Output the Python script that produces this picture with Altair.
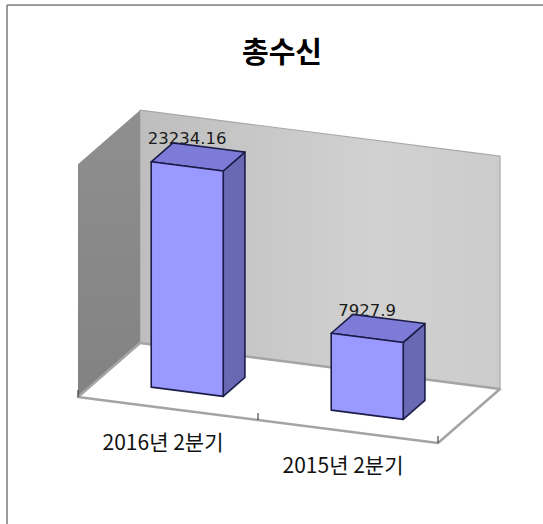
import altair as alt
import pandas as pd

# ---------------- data ----------------
categories = ["2016년 2분기", "2015년 2분기"]
values = [23234.16, 7927.9]
value_labels = ["23234.16", "7927.9"]
title_text = "총수신"
axis_max = 24000          # height of the chart walls (value units)

# ---------------- layout / 3-D geometry ----------------
CANVAS_W, CANVAS_H = 543, 524
PAD_L, PAD_T = 7, 5
VIEW_W, VIEW_H = CANVAS_W - PAD_L, CANVAS_H - PAD_T
ORIGIN_PX = (78, 397)     # floor front-left corner (canvas px)
SLOT_PX = 180             # horizontal px per category slot
SLOT_TILT_PX = 23         # vertical drop per slot (floor tilt)
DEPTH_PX = (62, -54)      # shift for full depth (front -> back wall)
PX_PER_UNIT = 0.0097      # vertical px per value unit
BAR_W = 0.4               # bar width (slots)
BAR_Z0 = 0.31             # bar front position (depth fraction)
BAR_D = 0.35              # bar depth (depth fraction)
TICK_PX = 7

N = len(categories)


def proj(X, Y, Z):
    u = X + Z * DEPTH_PX[0] / SLOT_PX
    v = Y - (X * SLOT_TILT_PX + Z * DEPTH_PX[1]) / PX_PER_UNIT
    return u, v


def face_rows(face, pts3d):
    pts = [proj(*p) for p in pts3d]
    us = sorted(set(round(p[0], 9) for p in pts))
    rows = []
    n = len(pts)
    for u in us:
        vs = []
        for i in range(n):
            (u1, v1), (u2, v2) = pts[i], pts[(i + 1) % n]
            if min(u1, u2) - 1e-9 <= u <= max(u1, u2) + 1e-9:
                if abs(u2 - u1) < 1e-12:
                    vs += [v1, v2]
                else:
                    t = (u - u1) / (u2 - u1)
                    vs.append(v1 + t * (v2 - v1))
        rows.append({"face": face, "u": u, "lo": min(vs), "hi": max(vs)})
    return rows


T = axis_max
back_df = pd.DataFrame(face_rows("back", [(0, 0, 1), (N, 0, 1), (N, T, 1), (0, T, 1)]))
left_df = pd.DataFrame(face_rows("left", [(0, 0, 0), (0, 0, 1), (0, T, 1), (0, T, 0)]))
floor_df = pd.DataFrame(face_rows("floor", [(0, 0, 0), (N, 0, 0), (N, 0, 1), (0, 0, 1)]))

front_rows, side_rows, top_rows = [], [], []
label_rows, cat_rows = [], []
for i, (cat, val, lab) in enumerate(zip(categories, values, value_labels)):
    c = i + 0.5
    x0, x1 = c - BAR_W / 2, c + BAR_W / 2
    z0, z1 = BAR_Z0, BAR_Z0 + BAR_D
    front_rows += face_rows(cat, [(x0, 0, z0), (x1, 0, z0), (x1, val, z0), (x0, val, z0)])
    side_rows += face_rows(cat, [(x1, 0, z0), (x1, 0, z1), (x1, val, z1), (x1, val, z0)])
    top_rows += face_rows(cat, [(x0, val, z0), (x1, val, z0), (x1, val, z1), (x0, val, z1)])
    lu, lv = proj(c, val, z0)
    label_rows.append({"u": lu, "v": lv, "label": lab})
    cu, cv = proj(c, 0, 0)
    cat_rows.append({"u": cu, "v": cv, "label": cat})

front_df = pd.DataFrame(front_rows)
side_df = pd.DataFrame(side_rows)
top_df = pd.DataFrame(top_rows)
label_df = pd.DataFrame(label_rows)
cat_df = pd.DataFrame(cat_rows)

tick_rows = []
for k in range(N + 1):
    tu, tv = proj(k, 0, 0)
    tick_rows.append({"u": tu, "v": tv, "v2": tv + TICK_PX / PX_PER_UNIT})
tick_df = pd.DataFrame(tick_rows)

# scales mapping the sheared coordinates to the view
ox = ORIGIN_PX[0] - PAD_L
oy = ORIGIN_PX[1] - PAD_T
x_dom = [-ox / SLOT_PX, (VIEW_W - ox) / SLOT_PX]
y_dom = [(oy - VIEW_H) / PX_PER_UNIT, oy / PX_PER_UNIT]
xs = alt.Scale(domain=x_dom, nice=False, zero=False)
ys = alt.Scale(domain=y_dom, nice=False, zero=False)
X = alt.X("u:Q", scale=xs, axis=None)
Y = alt.Y("lo:Q", scale=ys, axis=None)


def area(df, fill, stroke=None, sw=0):
    kw = dict(orient="vertical", fill=fill, opacity=1, fillOpacity=1)
    if stroke:
        kw.update(stroke=stroke, strokeWidth=sw, strokeJoin="round")
    return alt.Chart(df).mark_area(**kw).encode(
        x=X, y=Y, y2="hi:Q", detail="face:N"
    )


back_grad = alt.Gradient(
    gradient="linear", x1=0, x2=1, y1=0, y2=0,
    stops=[alt.GradientStop(offset=0, color="#BEBEBE"),
           alt.GradientStop(offset=0.65, color="#D1D1D1"),
           alt.GradientStop(offset=1, color="#CCCCCC")],
)
left_grad = alt.Gradient(
    gradient="linear", x1=0, x2=0, y1=0, y2=1,
    stops=[alt.GradientStop(offset=0, color="#8F8F8F"),
           alt.GradientStop(offset=1, color="#828282")],
)

back = area(back_df, back_grad, "#A8A8A8", 1.2)
left = area(left_df, left_grad)
floor = area(floor_df, "#FFFFFF", "#A4A4A4", 2.5)

ticks = alt.Chart(tick_df).mark_rule(color="#222222", strokeWidth=1).encode(
    x=X, y=alt.Y("v:Q", scale=ys, axis=None), y2="v2:Q"
)

cat_text = alt.Chart(cat_df).mark_text(
    font="Noto Sans CJK KR", fontSize=21, dy=35, dx=-5, baseline="middle", color="#111111"
).encode(x=X, y=alt.Y("v:Q", scale=ys, axis=None), text="label:N")

val_text = alt.Chart(label_df).mark_text(
    font="DejaVu Sans", fontSize=16.5, dy=-27, baseline="middle", color="#1a1a1a"
).encode(x=X, y=alt.Y("v:Q", scale=ys, axis=None), text="label:N")

EDGE = "#1C1C48"
bar_side = area(side_df, "#6868B4", EDGE, 1.6)
bar_top = area(top_df, "#7C7CD8", EDGE, 1.6)
bar_front = area(front_df, "#9999FF", EDGE, 1.6)

frame_df = pd.DataFrame({"k": [0]})
frame_top = alt.Chart(frame_df).mark_rule(color="#808080", strokeWidth=1.5).encode(
    x=alt.value(0), x2=alt.value(VIEW_W), y=alt.value(0)
)
frame_left = alt.Chart(frame_df).mark_rule(color="#808080", strokeWidth=1.5).encode(
    x=alt.value(0), y=alt.value(0), y2=alt.value(VIEW_H)
)

chart = alt.layer(
    back, left, floor, ticks, cat_text, val_text,
    bar_side, bar_top, bar_front, frame_top, frame_left,
).properties(
    width=VIEW_W,
    height=VIEW_H,
    autosize=alt.AutoSizeParams(type="none"),
    padding={"left": PAD_L, "top": PAD_T, "right": 0, "bottom": 0},
    title=alt.TitleParams(
        text=title_text, font="Noto Sans CJK KR", fontSize=29, fontWeight="bold",
        anchor="middle", orient="top", offset=0, baseline="middle", dy=79, dx=7,
        color="#000000",
    ),
).configure_view(stroke=None).configure(background="#FFFFFF")

chart.save("out.html", embed_options={"renderer": "svg", "actions": False})
